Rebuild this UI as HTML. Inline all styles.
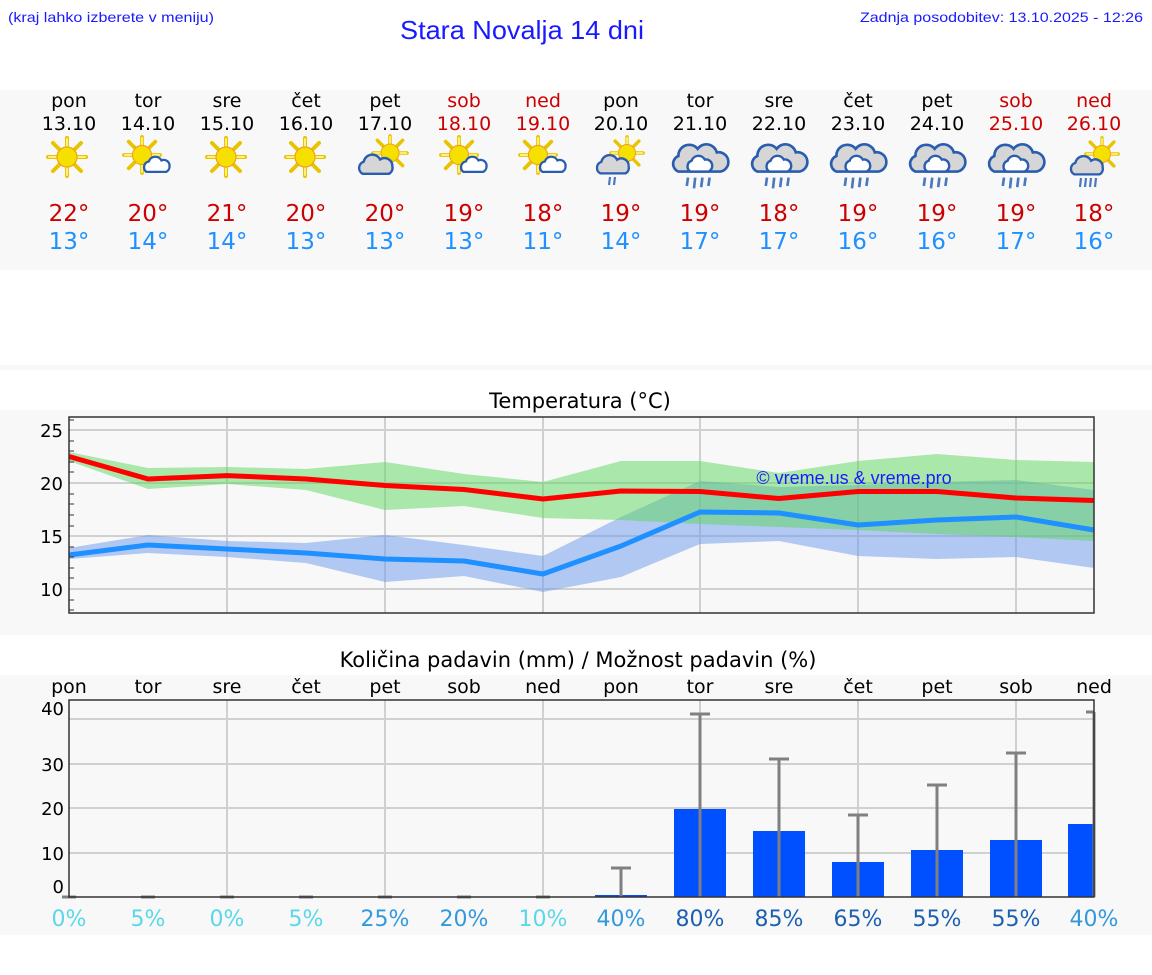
<!DOCTYPE html>
<html><head><meta charset="utf-8"><style>
html,body{margin:0;padding:0;background:#fff;}
svg{display:block;}
.d{font-family:"DejaVu Sans",sans-serif;font-size:19px;text-anchor:middle;fill:#000;}
.w{fill:#cc0000;}
.tx{font-family:"DejaVu Sans",sans-serif;font-size:23px;text-anchor:middle;}
.ax{font-family:"DejaVu Sans",sans-serif;font-size:18px;text-anchor:end;fill:#000;}
.pc{font-family:"DejaVu Sans",sans-serif;font-size:22px;text-anchor:middle;}
.lib{font-family:"Liberation Sans",sans-serif;}
</style></head><body>
<svg width="1152" height="975" viewBox="0 0 1152 975" xmlns="http://www.w3.org/2000/svg">
<defs>
<g id="sunrays">
<g stroke="#e8c400" stroke-width="4" stroke-linecap="round" fill="none">
<line x1="0" y1="-11" x2="0" y2="-19"/><line x1="0" y1="11" x2="0" y2="19"/>
<line x1="-11" y1="0" x2="-19" y2="0"/><line x1="11" y1="0" x2="19" y2="0"/>
<line x1="-8" y1="-8" x2="-14" y2="-14"/><line x1="8" y1="8" x2="14" y2="14"/>
<line x1="-8" y1="8" x2="-14" y2="14"/><line x1="8" y1="-8" x2="14" y2="-14"/>
</g>
<g stroke="#fff27a" stroke-width="2" stroke-linecap="round" fill="none">
<line x1="0" y1="-11" x2="0" y2="-18"/><line x1="0" y1="11" x2="0" y2="18"/>
<line x1="-11" y1="0" x2="-18" y2="0"/><line x1="11" y1="0" x2="18" y2="0"/>
</g>
<circle r="10" fill="#f5e000" stroke="#f0a020" stroke-width="1.2"/>
</g>
<g id="smallcloud"><path d="M-10,6 a5,5 0 0 1 2,-9 a6,6 0 0 1 11,-1 a5,5 0 0 1 7,5 a5,5 0 0 1 -3,5 z" fill="#fff" stroke="#2a5db0" stroke-width="2"/></g>
<g id="greycloud"><path d="M-14,8 a6,6 0 0 1 1,-11 a8,8 0 0 1 15,-2 a7,7 0 0 1 11,6 a6,6 0 0 1 -3,7 z" fill="#d6d6d6" stroke="#2a5db0" stroke-width="2.2"/></g>
<g id="raincloud">
<path d="M-18,8 a7,7 0 0 1 0,-13 a9,9 0 0 1 16,-6 a9,9 0 0 1 16,3 a8,8 0 0 1 3,16 z" fill="#d6d6d6" stroke="#2a5db0" stroke-width="2.2"/>
<path d="M-8,8 a5,5 0 0 1 1,-9 a6,6 0 0 1 11,-1 a5,5 0 0 1 6,4 a5,5 0 0 1 -3,6 z" fill="#fff" stroke="#2a5db0" stroke-width="2"/>
<g stroke="#4a78c0" stroke-width="2.2"><line x1="-10" y1="13" x2="-11" y2="20"/><line x1="-4" y1="13" x2="-5" y2="22"/><line x1="2" y1="13" x2="1" y2="21"/><line x1="8" y1="13" x2="7" y2="20"/></g>
</g>
<g id="i_sun"><use href="#sunrays"/></g>
<g id="i_sc"><use href="#sunrays" transform="translate(-4,-2) scale(0.95)"/><use href="#smallcloud" transform="translate(12,8) scale(1.15)"/></g>
<g id="i_cs"><use href="#sunrays" transform="translate(6,-4) scale(0.9)"/><use href="#greycloud" transform="translate(-6,8) scale(1.1)"/></g>
<g id="i_csr"><use href="#sunrays" transform="translate(7,-6) scale(0.85)"/><use href="#greycloud" transform="translate(-5,6) scale(1.05)"/><g stroke="#4a78c0" stroke-width="2.2"><line x1="-10" y1="18" x2="-11" y2="26"/><line x1="-5" y1="18" x2="-6" y2="26"/></g></g>
<g id="i_csr2"><use href="#sunrays" transform="translate(8,-6) scale(0.85)"/><use href="#greycloud" transform="translate(-5,6) scale(1.05)"/><g stroke="#4a78c0" stroke-width="2.2"><line x1="-13" y1="18" x2="-14" y2="27"/><line x1="-8" y1="18" x2="-9" y2="27"/><line x1="-3" y1="18" x2="-4" y2="27"/><line x1="2" y1="18" x2="1" y2="27"/></g></g>
</defs>

<!-- header -->
<text x="8" y="22" class="lib" font-size="14" fill="#1a1aff" textLength="206" lengthAdjust="spacingAndGlyphs">(kraj lahko izberete v meniju)</text>
<text x="522" y="39" class="lib" font-size="26" fill="#1a1aff" text-anchor="middle" textLength="244" lengthAdjust="spacingAndGlyphs">Stara Novalja 14 dni</text>
<text x="1143" y="22" class="lib" font-size="14" fill="#1a1aff" text-anchor="end" textLength="283" lengthAdjust="spacingAndGlyphs">Zadnja posodobitev: 13.10.2025 - 12:26</text>

<!-- forecast band -->
<rect x="0" y="90" width="1152" height="180" fill="#f8f8f8"/>
<rect x="0" y="365" width="1152" height="5" fill="#f8f8f8"/>
<g class="d">
<text x="69" y="107">pon</text><text x="69" y="130">13.10</text>
<text x="148" y="107">tor</text><text x="148" y="130">14.10</text>
<text x="227" y="107">sre</text><text x="227" y="130">15.10</text>
<text x="306" y="107">čet</text><text x="306" y="130">16.10</text>
<text x="385" y="107">pet</text><text x="385" y="130">17.10</text>
<text x="464" y="107" class="w">sob</text><text x="464" y="130" class="w">18.10</text>
<text x="543" y="107" class="w">ned</text><text x="543" y="130" class="w">19.10</text>
<text x="621" y="107">pon</text><text x="621" y="130">20.10</text>
<text x="700" y="107">tor</text><text x="700" y="130">21.10</text>
<text x="779" y="107">sre</text><text x="779" y="130">22.10</text>
<text x="858" y="107">čet</text><text x="858" y="130">23.10</text>
<text x="937" y="107">pet</text><text x="937" y="130">24.10</text>
<text x="1016" y="107" class="w">sob</text><text x="1016" y="130" class="w">25.10</text>
<text x="1094" y="107" class="w">ned</text><text x="1094" y="130" class="w">26.10</text>
</g>
<use href="#i_sun" transform="translate(67,157)"/>
<use href="#i_sc" transform="translate(146,157)"/>
<use href="#i_sun" transform="translate(226,157)"/>
<use href="#i_sun" transform="translate(305,157)"/>
<use href="#i_cs" transform="translate(384,157)"/>
<use href="#i_sc" transform="translate(463,157)"/>
<use href="#i_sc" transform="translate(542,157)"/>
<use href="#i_csr" transform="translate(620,159)"/>
<use href="#raincloud" transform="translate(700,162) scale(1.2)"/>
<use href="#raincloud" transform="translate(779,162) scale(1.2)"/>
<use href="#raincloud" transform="translate(858,162) scale(1.2)"/>
<use href="#raincloud" transform="translate(937,162) scale(1.2)"/>
<use href="#raincloud" transform="translate(1016,162) scale(1.2)"/>
<use href="#i_csr2" transform="translate(1094,160)"/>
<g class="tx" fill="#cc0000">
<text x="69" y="221">22°</text><text x="148" y="221">20°</text><text x="227" y="221">21°</text><text x="306" y="221">20°</text><text x="385" y="221">20°</text><text x="464" y="221">19°</text><text x="543" y="221">18°</text><text x="621" y="221">19°</text><text x="700" y="221">19°</text><text x="779" y="221">18°</text><text x="858" y="221">19°</text><text x="937" y="221">19°</text><text x="1016" y="221">19°</text><text x="1094" y="221">18°</text>
</g>
<g class="tx" fill="#1e90ff">
<text x="69" y="249">13°</text><text x="148" y="249">14°</text><text x="227" y="249">14°</text><text x="306" y="249">13°</text><text x="385" y="249">13°</text><text x="464" y="249">13°</text><text x="543" y="249">11°</text><text x="621" y="249">14°</text><text x="700" y="249">17°</text><text x="779" y="249">17°</text><text x="858" y="249">16°</text><text x="937" y="249">16°</text><text x="1016" y="249">17°</text><text x="1094" y="249">16°</text>
</g>

<!-- temperature chart -->
<rect x="0" y="410" width="1152" height="225" fill="#f8f8f8"/>
<text x="580" y="408" font-family="DejaVu Sans, sans-serif" font-size="21" text-anchor="middle">Temperatura (°C)</text>
<g stroke="#d0d0d0" stroke-width="2">
<line x1="69" y1="430" x2="1094" y2="430"/><line x1="69" y1="483" x2="1094" y2="483"/><line x1="69" y1="536" x2="1094" y2="536"/><line x1="69" y1="589" x2="1094" y2="589"/>
<line x1="227" y1="417" x2="227" y2="613"/><line x1="385" y1="417" x2="385" y2="613"/><line x1="543" y1="417" x2="543" y2="613"/><line x1="700" y1="417" x2="700" y2="613"/><line x1="858" y1="417" x2="858" y2="613"/><line x1="1016" y1="417" x2="1016" y2="613"/>
</g>
<polygon fill="#6a98ec" fill-opacity="0.5" points="69,548 148,535 227,541 306,543 385,535 464,545 543,556 621,517 700,481 779,487 858,485 937,482 1016,480 1094,490 1094,568 1016,557 937,559 858,556 779,541 700,544 621,577 543,592 464,576 385,582 306,563 227,557 148,553 69,559"/>
<polygon fill="#5cd65c" fill-opacity="0.5" points="69,452 148,468 227,467 306,469 385,462 464,474 543,482 621,461 700,461 779,473 858,461 937,454 1016,460 1094,462 1094,541 1016,537 937,534 858,530 779,527 700,524 621,520 543,518 464,506 385,510 306,490 227,484 148,489 69,461"/>
<polyline fill="none" stroke="#ff0000" stroke-width="5" stroke-linejoin="round" points="69,456.5 148,479 227,475.6 306,479 385,485.5 464,489.5 543,499 621,491 700,491.5 779,498.5 858,491.5 937,491.5 1016,498 1094,500.5"/>
<polyline fill="none" stroke="#1e90ff" stroke-width="5" stroke-linejoin="round" points="69,555 148,545 227,549 306,553 385,559 464,561 543,574 621,546 700,512 779,513 858,525 937,520 1016,517 1094,530"/>
<text x="854" y="484" class="lib" font-size="18" fill="#1a1aff" text-anchor="middle">© vreme.us &amp; vreme.pro</text>
<rect x="69" y="417" width="1025" height="196" fill="none" stroke="#333" stroke-width="1.5"/>
<g stroke="#333" stroke-width="1">
<line x1="69" y1="420" x2="74" y2="420"/><line x1="69" y1="441" x2="74" y2="441"/><line x1="69" y1="451" x2="74" y2="451"/><line x1="69" y1="462" x2="74" y2="462"/><line x1="69" y1="472" x2="74" y2="472"/><line x1="69" y1="494" x2="74" y2="494"/><line x1="69" y1="504" x2="74" y2="504"/><line x1="69" y1="515" x2="74" y2="515"/><line x1="69" y1="526" x2="74" y2="526"/><line x1="69" y1="547" x2="74" y2="547"/><line x1="69" y1="557" x2="74" y2="557"/><line x1="69" y1="568" x2="74" y2="568"/><line x1="69" y1="578" x2="74" y2="578"/><line x1="69" y1="600" x2="74" y2="600"/><line x1="69" y1="610" x2="74" y2="610"/>
</g>
<g class="ax"><text x="63" y="437">25</text><text x="63" y="490">20</text><text x="63" y="543">15</text><text x="63" y="596">10</text></g>

<!-- precipitation chart -->
<rect x="0" y="675" width="1152" height="260" fill="#f8f8f8"/>
<text x="578" y="667" font-family="DejaVu Sans, sans-serif" font-size="21" text-anchor="middle">Količina padavin (mm) / Možnost padavin (%)</text>
<g class="d">
<text x="69" y="693">pon</text><text x="148" y="693">tor</text><text x="227" y="693">sre</text><text x="306" y="693">čet</text><text x="385" y="693">pet</text><text x="464" y="693">sob</text><text x="543" y="693">ned</text><text x="621" y="693">pon</text><text x="700" y="693">tor</text><text x="779" y="693">sre</text><text x="858" y="693">čet</text><text x="937" y="693">pet</text><text x="1016" y="693">sob</text><text x="1094" y="693">ned</text>
</g>
<g stroke="#d0d0d0" stroke-width="2">
<line x1="69" y1="719" x2="1094" y2="719"/><line x1="69" y1="764" x2="1094" y2="764"/><line x1="69" y1="808" x2="1094" y2="808"/><line x1="69" y1="853" x2="1094" y2="853"/>
<line x1="227" y1="700" x2="227" y2="897"/><line x1="385" y1="700" x2="385" y2="897"/><line x1="543" y1="700" x2="543" y2="897"/><line x1="700" y1="700" x2="700" y2="897"/><line x1="858" y1="700" x2="858" y2="897"/><line x1="1016" y1="700" x2="1016" y2="897"/>
</g>
<g fill="#0050ff">
<rect x="595" y="895" width="52" height="2"/>
<rect x="674" y="809" width="52" height="88"/>
<rect x="753" y="831" width="52" height="66"/>
<rect x="832" y="862" width="52" height="35"/>
<rect x="911" y="850" width="52" height="47"/>
<rect x="990" y="840" width="52" height="57"/>
<rect x="1068" y="824" width="26" height="73"/>
</g>
<g stroke="#808080" stroke-width="3">
<line x1="621" y1="868" x2="621" y2="897"/><line x1="611" y1="868" x2="631" y2="868"/>
<line x1="700" y1="714" x2="700" y2="897"/><line x1="690" y1="714" x2="710" y2="714"/>
<line x1="779" y1="759" x2="779" y2="897"/><line x1="769" y1="759" x2="789" y2="759"/>
<line x1="858" y1="815" x2="858" y2="897"/><line x1="848" y1="815" x2="868" y2="815"/>
<line x1="937" y1="785" x2="937" y2="897"/><line x1="927" y1="785" x2="947" y2="785"/>
<line x1="1016" y1="753" x2="1016" y2="897"/><line x1="1006" y1="753" x2="1026" y2="753"/>
<line x1="1094" y1="712" x2="1094" y2="897"/><line x1="1086" y1="712" x2="1094" y2="712"/>
<line x1="62" y1="897" x2="76" y2="897"/><line x1="141" y1="897" x2="155" y2="897"/><line x1="220" y1="897" x2="234" y2="897"/><line x1="299" y1="897" x2="313" y2="897"/><line x1="378" y1="897" x2="392" y2="897"/><line x1="457" y1="897" x2="471" y2="897"/><line x1="536" y1="897" x2="550" y2="897"/>
</g>
<rect x="69" y="700" width="1025" height="197" fill="none" stroke="#333" stroke-width="1.5"/>
<g class="ax"><text x="64" y="715">40</text><text x="64" y="771">30</text><text x="64" y="815">20</text><text x="64" y="860">10</text><text x="64" y="893">0</text></g>
<g class="pc">
<text x="69" y="926" fill="#5ad8ea">0%</text>
<text x="148" y="926" fill="#5ad8ea">5%</text>
<text x="227" y="926" fill="#5ad8ea">0%</text>
<text x="306" y="926" fill="#5ad8ea">5%</text>
<text x="385" y="926" fill="#3399dd">25%</text>
<text x="464" y="926" fill="#3399dd">20%</text>
<text x="543" y="926" fill="#5ad8ea">10%</text>
<text x="621" y="926" fill="#3399dd">40%</text>
<text x="700" y="926" fill="#1e60b0">80%</text>
<text x="779" y="926" fill="#1e60b0">85%</text>
<text x="858" y="926" fill="#1e60b0">65%</text>
<text x="937" y="926" fill="#1e60b0">55%</text>
<text x="1016" y="926" fill="#1e60b0">55%</text>
<text x="1094" y="926" fill="#3399dd">40%</text>
</g>
</svg>
</body></html>
